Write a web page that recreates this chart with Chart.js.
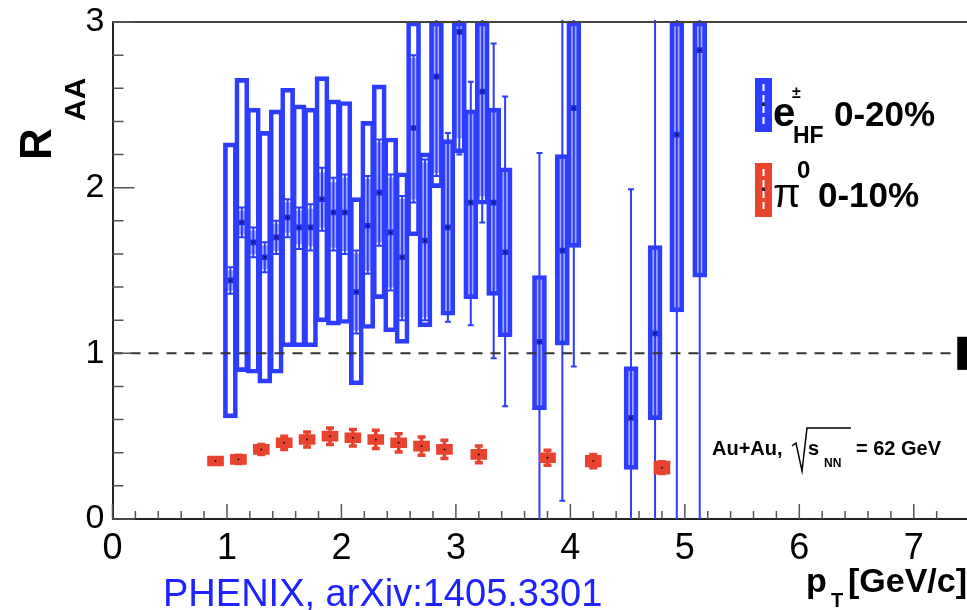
<!DOCTYPE html>
<html>
<head>
<meta charset="utf-8">
<script src="https://cdn.jsdelivr.net/npm/chart.js@4.4.1/dist/chart.umd.min.js"></script>
<style>
  html, body { margin: 0; padding: 0; background: #fff; }
  #wrap { position: relative; width: 967px; height: 610px; overflow: hidden; }
  #c { position: absolute; left: 0; top: 0; }
  #src { position: absolute; left: 163px; top: 574px; font: 38px/38px "Liberation Sans", Arial, sans-serif; color: #1e22ff; white-space: nowrap; }
</style>
</head>
<body>
<div id="wrap">
  <canvas id="c" width="980" height="610"></canvas>
  <div id="src">PHENIX, arXiv:1405.3301</div>
</div>
<script>
// --- Heavy-flavour electrons, 0-20% ---
const eHF_pt    = [1.03,1.13,1.23,1.33,1.43,1.53,1.63,1.73,1.83,1.93,2.03,2.13,2.23,2.33,2.43,2.53,2.63,2.73,2.83,2.93,3.03,3.13,3.23,3.33,3.43,3.73,3.93,4.03,4.53,4.74,4.93,5.13];
const eHF_raa   = [1.44,1.79,1.67,1.58,1.70,1.82,1.76,1.76,1.93,1.85,1.85,1.37,1.77,1.97,1.73,1.58,2.36,1.68,2.67,1.76,2.94,1.91,2.58,1.91,1.61,1.07,1.62,2.48,0.61,1.12,2.32,2.83];
const eHF_statLo = [1.36,1.70,1.58,1.49,1.60,1.70,1.63,1.62,1.74,1.62,1.60,1.12,1.48,1.65,1.38,1.20,1.91,1.20,2.07,1.19,2.20,1.17,1.79,0.97,0.68,-0.60,0.11,0.92,-0.80,-0.90,-0.50,-0.30];
const eHF_statHi = [1.52,1.88,1.76,1.67,1.80,1.93,1.88,1.90,2.12,2.06,2.08,1.62,2.07,2.29,2.08,1.95,2.80,2.17,3.30,2.33,3.60,2.64,3.40,2.87,2.55,2.21,3.60,4.00,1.99,3.60,4.20,4.40];
const eHF_sysLo = [0.61,0.89,0.88,0.82,0.88,1.04,1.04,1.04,1.19,1.17,1.18,0.81,1.15,1.33,1.13,1.06,1.71,1.16,2.00,1.23,2.21,1.33,1.90,1.35,1.10,0.66,1.05,1.64,0.30,0.60,1.25,1.46];
const eHF_sysHi = [2.27,2.66,2.48,2.34,2.47,2.60,2.50,2.48,2.67,2.53,2.52,1.94,2.40,2.62,2.30,2.09,3.00,2.21,3.00,2.29,3.00,2.47,3.00,2.48,2.12,1.47,2.20,3.00,0.92,1.65,3.00,3.00];
const eHF_cLo   = [1.38,1.72,1.60,1.51,1.62,1.73,1.66,1.65,1.76,1.64,1.62,1.14,1.50,1.67,1.40,1.22,1.93,1.22,2.09,1.25,2.30,1.35,1.95,1.38,1.12,0.68,1.07,1.66,0.32,0.62,1.27,1.48];
const eHF_cHi   = [1.50,1.86,1.74,1.65,1.78,1.91,1.86,1.87,2.09,2.03,2.06,1.60,2.05,2.27,2.06,1.93,2.78,2.15,3.00,2.27,3.00,2.45,3.00,2.46,2.10,1.45,2.18,3.00,0.90,1.63,3.00,3.00];

// --- pi0, 0-10% ---
const pi0_pt   = [0.9,1.1,1.3,1.5,1.7,1.9,2.1,2.3,2.5,2.7,2.9,3.2,3.8,4.2,4.8];
const pi0_raa  = [0.35,0.36,0.42,0.46,0.48,0.50,0.49,0.48,0.46,0.44,0.42,0.39,0.37,0.35,0.31];
const pi0_stat = [0.02,0.025,0.03,0.04,0.045,0.05,0.05,0.055,0.055,0.055,0.055,0.05,0.045,0.04,0.035];
const pi0_sys  = [0.03,0.03,0.03,0.03,0.03,0.03,0.03,0.03,0.03,0.03,0.03,0.03,0.03,0.035,0.04];

// axes
const xMajor = [0,1,2,3,4,5,6,7];
const yMajor = [0,1,2,3];
const normLo = 0.9, normHi = 1.1;   // global normalisation box at the right edge

const BLUE = '#2d3dff';
const BLUE_FILL = 'rgba(45,61,255,0.45)';
const BLUE_MARK = '#1c2ad8';
const RED = '#e8432f';
const FONT = '"Liberation Sans", Arial, sans-serif';

const isMajor = v => Math.abs(v - Math.round(v)) < 1e-6;

function errBar(ctx, x, lo, hi, cap, color, w) {
    ctx.strokeStyle = color;
    ctx.lineWidth = w;
    ctx.beginPath();
    ctx.moveTo(x, lo); ctx.lineTo(x, hi);
    ctx.moveTo(x - cap, lo); ctx.lineTo(x + cap, lo);
    ctx.moveTo(x - cap, hi); ctx.lineTo(x + cap, hi);
    ctx.stroke();
}

const decor = {
    id: 'decor',
    beforeDatasetsDraw(chart) {
        const {ctx, chartArea: a, scales: {x, y}} = chart;
        ctx.save();
        ctx.beginPath();
        ctx.rect(a.left, a.top - 2, a.right - a.left, a.bottom - a.top + 2);
        ctx.clip();
        eHF_pt.forEach((p, i) => {
            errBar(ctx, x.getPixelForValue(p), y.getPixelForValue(eHF_statLo[i]), y.getPixelForValue(eHF_statHi[i]), 3, BLUE, 2);
        });
        pi0_pt.forEach((p, i) => {
            errBar(ctx, x.getPixelForValue(p), y.getPixelForValue(pi0_raa[i] - pi0_stat[i]), y.getPixelForValue(pi0_raa[i] + pi0_stat[i]), 4, RED, 3.5);
        });
        ctx.restore();
    },
    afterDatasetsDraw(chart) {
        const {ctx, chartArea: a, scales: {x, y}} = chart;
        ctx.save();

        // dashed line at R_AA = 1
        ctx.strokeStyle = '#333';
        ctx.lineWidth = 2;
        ctx.setLineDash([10, 8]);
        ctx.beginPath();
        ctx.moveTo(a.left, y.getPixelForValue(1));
        ctx.lineTo(a.right, y.getPixelForValue(1));
        ctx.stroke();
        ctx.setLineDash([]);

        // normalisation box
        ctx.fillStyle = '#000';
        const nx = x.getPixelForValue(7.38);
        ctx.fillRect(nx, y.getPixelForValue(normHi), a.right - nx + 4, y.getPixelForValue(normLo) - y.getPixelForValue(normHi));

        // top frame
        ctx.strokeStyle = '#444';
        ctx.lineWidth = 2;
        ctx.beginPath();
        ctx.moveTo(a.left, a.top); ctx.lineTo(a.right, a.top);
        ctx.stroke();

        // inward ticks
        ctx.strokeStyle = '#555';
        ctx.lineWidth = 1.5;
        ctx.beginPath();
        x.ticks.forEach(t => {
            const px = x.getPixelForValue(t.value);
            const len = isMajor(t.value) ? 15 : 8;
            ctx.moveTo(px, a.bottom); ctx.lineTo(px, a.bottom - len);
        });
        y.ticks.forEach(t => {
            const py = y.getPixelForValue(t.value);
            const len = isMajor(t.value) ? 22 : 11;
            ctx.moveTo(a.left, py); ctx.lineTo(a.left + len, py);
        });
        ctx.stroke();
        ctx.restore();
    },
    afterDraw(chart) {
        const ctx = chart.ctx;
        ctx.save();
        ctx.fillStyle = '#000';
        ctx.textBaseline = 'alphabetic';
        ctx.textAlign = 'left';

        // y title R_AA (rotated)
        ctx.save();
        ctx.translate(51, 160);
        ctx.rotate(-Math.PI / 2);
        ctx.font = 'bold 44px ' + FONT;
        ctx.fillText('R', 0, 0);
        ctx.restore();
        ctx.save();
        ctx.translate(85, 121);
        ctx.rotate(-Math.PI / 2);
        ctx.font = 'bold 30px ' + FONT;
        ctx.fillText('AA', 0, 0);
        ctx.restore();

        // x title p_T [GeV/c]
        ctx.font = 'bold 34px ' + FONT;
        ctx.fillText('p', 806, 592);
        ctx.font = 'bold 20px ' + FONT;
        ctx.fillText('T', 831, 607);
        ctx.font = 'bold 34px ' + FONT;
        ctx.fillText('[GeV/c]', 848, 592);

        // legend
        const icon = (top, color) => {
            ctx.fillStyle = color;
            ctx.fillRect(755, top, 17, 54);
            ctx.strokeStyle = '#fff';
            ctx.lineWidth = 2;
            ctx.setLineDash([7, 4]);
            ctx.beginPath();
            ctx.moveTo(763.5, top + 6); ctx.lineTo(763.5, top + 48);
            ctx.stroke();
            ctx.setLineDash([]);
            ctx.fillStyle = '#223';
            ctx.fillRect(762, top + 25, 3, 3);
        };
        icon(78, BLUE);
        icon(163, RED);
        ctx.fillStyle = '#000';
        ctx.font = 'bold 40px ' + FONT;
        ctx.fillText('e', 773, 126);
        ctx.font = 'bold 16px ' + FONT;
        ctx.fillText('±', 792, 98);
        ctx.font = 'bold 23px ' + FONT;
        ctx.fillText('HF', 793, 143);
        ctx.font = 'bold 35px ' + FONT;
        ctx.fillText('0-20%', 834, 126);
        ctx.font = '40px ' + FONT;
        ctx.fillText('π', 773, 207);
        ctx.font = 'bold 24px ' + FONT;
        ctx.fillText('0', 797, 178);
        ctx.font = 'bold 35px ' + FONT;
        ctx.fillText('0-10%', 818, 207);

        // collision system label
        ctx.font = 'bold 20px ' + FONT;
        ctx.fillText('Au+Au,', 712, 455);
        ctx.strokeStyle = '#000';
        ctx.lineWidth = 1.5;
        ctx.beginPath();
        ctx.moveTo(792, 446); ctx.lineTo(796, 443); ctx.lineTo(802, 471); ctx.lineTo(807, 428); ctx.lineTo(851, 428);
        ctx.stroke();
        ctx.fillText('s', 808, 455);
        ctx.font = 'bold 12px ' + FONT;
        ctx.fillText('NN', 824, 467);
        ctx.font = 'bold 20px ' + FONT;
        ctx.fillText('= 62 GeV', 856, 455);
        ctx.restore();
    }
};

const floating = (xs, lo, hi) => xs.map((p, i) => ({x: p, y: [lo[i], hi[i]]}));
const points = (xs, ys) => xs.map((p, i) => ({x: p, y: ys[i]}));

new Chart(document.getElementById('c'), {
    type: 'scatter',
    data: {
        datasets: [
            {
                type: 'scatter', data: points(eHF_pt, eHF_raa), order: 0,
                pointStyle: 'rect', pointRadius: 4, backgroundColor: BLUE_MARK, borderWidth: 0
            },
            {
                type: 'scatter', data: points(pi0_pt, pi0_raa), order: 0,
                pointStyle: 'rect', pointRadius: 5, backgroundColor: RED, borderWidth: 0
            },
            {
                type: 'scatter', data: points(eHF_pt.concat(pi0_pt), eHF_raa.concat(pi0_raa)), order: -1,
                pointStyle: 'circle', pointRadius: 1, backgroundColor: '#111', borderWidth: 0
            },
            {
                type: 'bar', data: floating(eHF_pt, eHF_sysLo, eHF_sysHi), order: 2,
                grouped: false, barThickness: 14, borderWidth: 4, borderSkipped: false,
                borderColor: BLUE, backgroundColor: 'rgba(0,0,0,0)', clip: 4
            },
            {
                type: 'bar', data: floating(eHF_pt, eHF_cLo, eHF_cHi), order: 3,
                grouped: false, barThickness: 7, borderWidth: 0,
                backgroundColor: BLUE_FILL
            },
            {
                type: 'bar', data: floating(pi0_pt, pi0_raa.map((v, i) => v - pi0_sys[i]), pi0_raa.map((v, i) => v + pi0_sys[i])), order: 2,
                grouped: false, barThickness: 16, borderWidth: 0,
                backgroundColor: RED
            }
        ]
    },
    options: {
        responsive: false,
        animation: false,
        layout: { padding: { left: 0, top: 22, right: 9, bottom: 0 } },
        plugins: { legend: { display: false }, tooltip: { enabled: false } },
        scales: {
            x: {
                type: 'linear', min: 0, max: 7.5, offset: false,
                grid: { display: false },
                border: { display: true, color: '#222', width: 2 },
                ticks: {
                    stepSize: 0.2, autoSkip: false, maxRotation: 0, padding: 0,
                    color: '#000', font: { family: FONT, size: 36 },
                    callback: v => isMajor(v) && xMajor.includes(Math.round(v)) ? String(Math.round(v)) : ''
                },
                afterFit: s => { s.height = 91; }
            },
            y: {
                type: 'linear', min: 0, max: 3,
                grid: { display: false },
                border: { display: true, color: '#222', width: 2 },
                ticks: {
                    stepSize: 0.2, autoSkip: false, padding: 0,
                    color: '#000', font: { family: FONT, size: 34 },
                    callback: v => isMajor(v) && yMajor.includes(Math.round(v)) ? String(Math.round(v)) : ''
                },
                afterFit: s => { s.width = 112.5; }
            }
        }
    },
    plugins: [decor]
});
</script>
</body>
</html>
